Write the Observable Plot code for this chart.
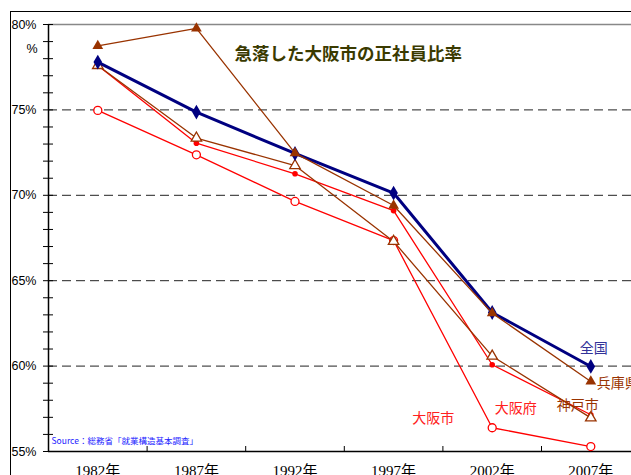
<!DOCTYPE html>
<html>
<head>
<meta charset="utf-8">
<script src="https://cdn.jsdelivr.net/npm/d3@7"></script>
<script src="https://cdn.jsdelivr.net/npm/@observablehq/plot@0.6"></script>
<style>
  html, body { margin: 0; padding: 0; background: #fff; }
  #wrap { position: relative; width: 631px; height: 475px; overflow: hidden; background: #fff; }
  #frame { position: absolute; left: 10px; top: 11px; width: 700px; height: 500px;
           border-left: 1.5px solid #000; border-top: 1.5px solid #000; }
  #chart { position: absolute; left: 0; top: 0; width: 641px; }
  #chart svg { max-width: none !important; }
</style>
</head>
<body>
<div id="wrap"><div id="frame"></div><div id="chart"></div></div>
<script>
const years = [1982, 1987, 1992, 1997, 2002, 2007];
const zenkoku   = [77.8, 74.87, 72.45, 70.13, 63.14, 59.98];
const hyogo     = [78.75, 79.77, 72.47, 69.4, 63.1, 59.1];
const kobe      = [77.6, 73.35, 71.74, 67.3, 60.58, 56.97];
const osakaFu   = [77.6, 73.05, 71.26, 69.1, 60.08, 57.15];
const osakaShi  = [74.97, 72.37, 69.64, 67.35, 56.39, 55.29];
const seriesNames = ["全国", "兵庫県", "神戸市", "大阪府", "大阪市"];
const yTicksMajor = [55, 60, 65, 70, 75, 80];
const yTicksMinor = d3.range(55, 81);
const gridDashed = [60, 65, 70, 75];
const title = "急落した大阪市の正社員比率";
const source = "Source：総務省「就業構造基本調査」";

const toRows = (name, vals) => years.map((year, i) => ({name, year, value: vals[i]}));
const rZen = toRows(seriesNames[0], zenkoku);
const rHyo = toRows(seriesNames[1], hyogo);
const rKob = toRows(seriesNames[2], kobe);
const rFu  = toRows(seriesNames[3], osakaFu);
const rShi = toRows(seriesNames[4], osakaShi);

const half = (years[1] - years[0]) / 2;
const xDomain = [years[0] - half, years[years.length - 1] + half];
const boundaries = years.map(y => y + half);

const NAVY = "#000080", BROWN = "#993300", RED = "#ff0000";
const lblFont = "'Noto Sans CJK JP', sans-serif";

const chart = Plot.plot({
  width: 641, height: 475,
  marginLeft: 48, marginRight: 1.4, marginTop: 24, marginBottom: 24,
  style: {fontFamily: "'Liberation Sans', Arial, sans-serif", background: "transparent", overflow: "visible", maxWidth: "none"},
  x: {type: "linear", domain: xDomain, axis: null},
  y: {domain: [55, 80], axis: null},
  marks: [
    Plot.ruleY(gridDashed, {stroke: "#222", strokeWidth: 1, strokeDasharray: "9,5"}),
    Plot.ruleY([80], {stroke: "#888", strokeWidth: 1.5}),
    Plot.ruleY([55], {stroke: "#000", strokeWidth: 1.5}),
    Plot.ruleX([xDomain[0]], {stroke: "#000", strokeWidth: 1.5}),
    Plot.axisY(yTicksMinor, {tickSize: 5, tickFormat: () => "", stroke: "#000", label: null}),
    Plot.axisY(yTicksMinor, {tickSize: -5, tickFormat: () => "", stroke: "#000", label: null}),
    Plot.axisY(yTicksMajor, {tickSize: 0, tickPadding: 12, tickFormat: d => d + "%", fontSize: 12.5, fill: "#000", label: null}),
    Plot.axisX(boundaries, {tickSize: -5, tickFormat: () => "", stroke: "#000", label: null}),
    Plot.axisX(years, {tickSize: 0, tickPadding: 14, tickFormat: d => d + "年", fontSize: 15, fontFamily: "'Liberation Serif', 'Noto Sans CJK JP', serif", fill: "#000", label: null}),
    Plot.text(["%"], {frameAnchor: "top-left", dx: -22, dy: 20, fontSize: 12.5, fill: "#000"}),
    Plot.text([title], {frameAnchor: "top", dx: 4, dy: 23, fontSize: 17.5, fontWeight: "bold", fill: "#3a3a00", fontFamily: lblFont, letterSpacing: "2.6px"}),
    Plot.text([source], {frameAnchor: "bottom-left", dx: 3, dy: -8, textAnchor: "start", fontSize: 8.5, fill: "#2222ff", fontFamily: lblFont}),

    Plot.line(rShi, {x: "year", y: "value", stroke: RED, strokeWidth: 1.3}),
    Plot.dot(rShi, {x: "year", y: "value", r: 4, stroke: RED, fill: "#fff", strokeWidth: 1.3}),
    Plot.line(rFu, {x: "year", y: "value", stroke: RED, strokeWidth: 1.3}),
    Plot.dot(rFu, {x: "year", y: "value", r: 2.8, fill: RED}),
    Plot.line(rKob, {x: "year", y: "value", stroke: BROWN, strokeWidth: 1.3}),
    Plot.dot(rKob, {x: "year", y: "value", symbol: "triangle2", r: 5, stroke: BROWN, fill: "#fff", strokeWidth: 1.3}),
    Plot.line(rZen, {x: "year", y: "value", stroke: NAVY, strokeWidth: 3}),
    Plot.dot(rZen, {x: "year", y: "value", symbol: "diamond", r: 4.5, fill: NAVY}),
    Plot.line(rHyo, {x: "year", y: "value", stroke: BROWN, strokeWidth: 1.3}),
    Plot.dot(rHyo, {x: "year", y: "value", symbol: "triangle", r: 4, fill: BROWN}),

    Plot.text(rZen.slice(-1), {x: "year", y: "value", text: "name", dx: 3, dy: -18, fontSize: 14, fill: "#333399", fontFamily: lblFont}),
    Plot.text(rHyo.slice(-1), {x: "year", y: "value", text: "name", dx: 6, dy: 2, textAnchor: "start", fontSize: 14, fill: BROWN, fontFamily: lblFont}),
    Plot.text(rKob.slice(-1), {x: "year", y: "value", text: "name", dx: -13, dy: -12, fontSize: 14, fill: BROWN, fontFamily: lblFont}),
    Plot.text(rFu.slice(-1), {x: "year", y: "value", text: "name", dx: -75, dy: -6, fontSize: 14, fill: "#ff2020", fontFamily: lblFont}),
    Plot.text(rShi.slice(-2, -1), {x: "year", y: "value", text: "name", dx: -59, dy: -9, fontSize: 14, fill: "#ff2020", fontFamily: lblFont})
  ]
});
document.getElementById("chart").appendChild(chart);
</script>
</body>
</html>
